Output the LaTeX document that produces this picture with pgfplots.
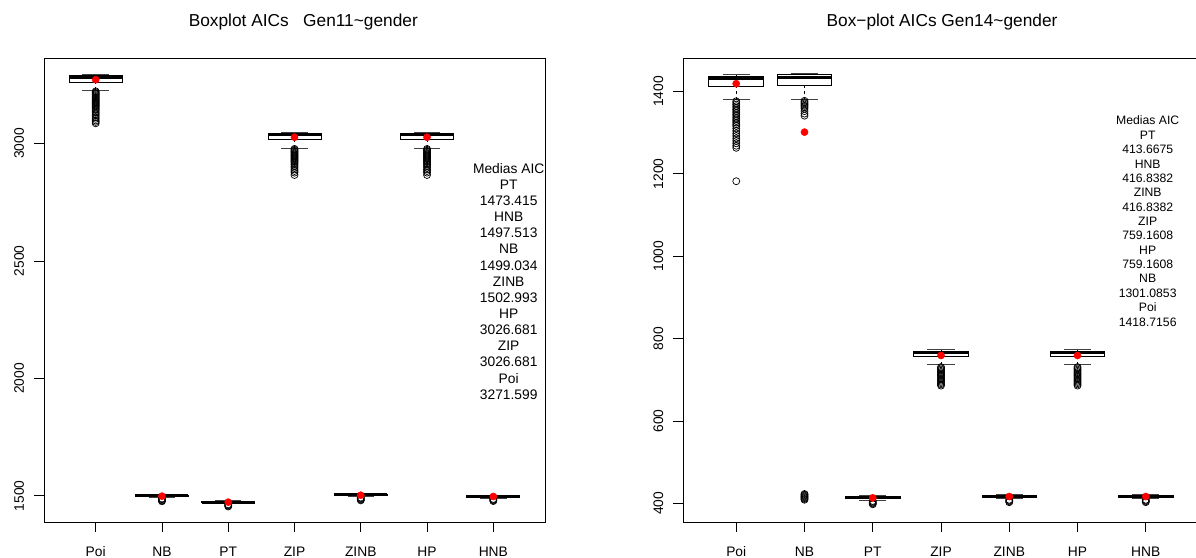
\documentclass[border=0pt]{standalone}
\usepackage{pgfplots}
\pgfplotsset{compat=1.18}
\usepackage{fontspec}
\setmainfont{Liberation Sans}

\pgfplotsset{
  aicaxis/.style={
    scale only axis,
    height=464pt,
    anchor=south west,
    xmin=0.22, xmax=7.78,
    xtick={1,2,3,4,5,6,7},
    xticklabels={Poi,NB,PT,ZIP,ZINB,HP,HNB},
    xtick pos=left, ytick pos=left,
    tick align=outside,
    major tick length=10pt,
    tick style={black, line width=0.9pt},
    axis line style={black, line width=0.9pt},
    ticklabel style={font=\fontsize{13.8}{16}\selectfont},
    /pgf/number format/1000 sep={},
    /pgf/number format/assume math mode=true,
    xticklabel style={anchor=base, inner sep=0pt, yshift=-24pt},
    % rotated labels: local y points to the left of the page
    yticklabel style={rotate=90, anchor=base, inner sep=0pt, yshift=10pt},
  },
  whisk/.style={black, line width=0.9pt, dash pattern=on 3pt off 3pt},
  staple/.style={black!75, line width=0.9pt},
  boxbody/.style={black, fill=white, line width=0.9pt},
  medline/.style={black, line width=3pt},
  outl/.style={only marks, mark=o, mark size=3.5pt, black,
    mark options={line width=0.7pt}},
  meanpt/.style={only marks, mark=*, mark size=3.6pt, red,
    mark options={draw=red, fill=red}},
}

% box at #1: lower whisker #2, lower quartile #3, median #4,
% upper quartile #5, upper whisker #6
\newcommand{\aicbox}[6]{%
  \pgfmathsetmacro\xl{#1-0.4}\pgfmathsetmacro\xr{#1+0.4}%
  \pgfmathsetmacro\cl{#1-0.2}\pgfmathsetmacro\cr{#1+0.2}%
  \addplot[whisk] coordinates {(#1,#2) (#1,#3)};
  \addplot[whisk] coordinates {(#1,#5) (#1,#6)};
  \addplot[staple] coordinates {(\cl,#2) (\cr,#2)};
  \addplot[staple] coordinates {(\cl,#6) (\cr,#6)};
  \addplot[boxbody] coordinates {(\xl,#3) (\xr,#3) (\xr,#5) (\xl,#5)} --cycle;
  \addplot[medline] coordinates {(\xl,#4) (\xr,#4)};
}

\begin{document}
\begin{tikzpicture}
\useasboundingbox (0pt,0pt) rectangle (1196pt,557pt);

% ---------------- Gen11 ----------------
\begin{axis}[aicaxis, at={(44pt,35pt)}, width=501pt,
  ymin=1389, ymax=3364, ytick={1500,2000,2500,3000}]
\aicbox{1}{3227}{3262}{3283}{3288}{3292}
\aicbox{2}{1492}{1497}{1500}{1502}{1505}
\aicbox{3}{1467}{1471}{1474}{1476}{1479}
\aicbox{4}{2981}{3017}{3038}{3042}{3045}
\aicbox{5}{1496}{1501}{1504}{1506}{1509}
\aicbox{6}{2981}{3017}{3038}{3042}{3045}
\aicbox{7}{1490}{1495}{1498}{1500}{1503}
% outliers
\addplot[outl] coordinates {
 (1,3222) (1,3218) (1,3214) (1,3210) (1,3206) (1,3202) (1,3198) (1,3194)
 (1,3190) (1,3186) (1,3182) (1,3178) (1,3174) (1,3170) (1,3166) (1,3162)
 (1,3158) (1,3153) (1,3148) (1,3143) (1,3137) (1,3131) (1,3125) (1,3119)
 (1,3112) (1,3105) (1,3098) (1,3092) (1,3086)
 (2,1489) (2,1486) (2,1483) (2,1480) (2,1477)
 (3,1464) (3,1461) (3,1458) (3,1455)
 (4,2977) (4,2973) (4,2969) (4,2965) (4,2961) (4,2957) (4,2953) (4,2949)
 (4,2945) (4,2941) (4,2937) (4,2933) (4,2929) (4,2925) (4,2921) (4,2916)
 (4,2910) (4,2904) (4,2897) (4,2890) (4,2883) (4,2876) (4,2866)
 (5,1493) (5,1490) (5,1487) (5,1484) (5,1481)
 (6,2977) (6,2973) (6,2969) (6,2965) (6,2961) (6,2957) (6,2953) (6,2949)
 (6,2945) (6,2941) (6,2937) (6,2933) (6,2929) (6,2925) (6,2921) (6,2916)
 (6,2910) (6,2904) (6,2897) (6,2890) (6,2883) (6,2876) (6,2866)
 (7,1487) (7,1484) (7,1481) (7,1478)
};
% means
\addplot[meanpt] coordinates {
 (1,3271.599) (2,1499.034) (3,1473.415) (4,3026.681)
 (5,1502.993) (6,3026.681) (7,1497.513)
};
\end{axis}

% ---------------- Gen14 ----------------
\begin{axis}[aicaxis, at={(683pt,35pt)}, width=516pt,
  ymin=355, ymax=1481, ytick={400,600,800,1000,1200,1400}]
\aicbox{1}{1380}{1412}{1431}{1436}{1440}
\aicbox{2}{1380}{1415}{1433}{1440}{1443}
\aicbox{3}{408}{412}{414}{416}{419}
\aicbox{4}{737}{756}{766}{770}{774}
\aicbox{5}{411}{415}{417}{419}{422}
\aicbox{6}{737}{756}{766}{770}{774}
\aicbox{7}{411}{415}{417}{419}{422}
% outliers
\addplot[outl] coordinates {
 (1,1376) (1,1372) (1,1368) (1,1364) (1,1360) (1,1356) (1,1352) (1,1348)
 (1,1344) (1,1340) (1,1336) (1,1332) (1,1328) (1,1324) (1,1320) (1,1316)
 (1,1310) (1,1304) (1,1298) (1,1292) (1,1286) (1,1280) (1,1274) (1,1268)
 (1,1263) (1,1182)
 (2,1377) (2,1374) (2,1371) (2,1368) (2,1365) (2,1362) (2,1358) (2,1352)
 (2,1346) (2,1341)
 (2,423) (2,421) (2,419) (2,417) (2,415) (2,413) (2,411) (2,409)
 (3,406) (3,404) (3,402) (3,400) (3,398)
 (4,731) (4,728) (4,725) (4,722) (4,719) (4,716) (4,713) (4,710)
 (4,707) (4,704) (4,701) (4,698) (4,695) (4,692) (4,689) (4,686)
 (5,409) (5,407) (5,405) (5,403)
 (6,731) (6,728) (6,725) (6,722) (6,719) (6,716) (6,713) (6,710)
 (6,707) (6,704) (6,701) (6,698) (6,695) (6,692) (6,689) (6,686)
 (7,409) (7,407) (7,405) (7,403)
};
% means
\addplot[meanpt] coordinates {
 (1,1418.7156) (2,1301.0853) (3,413.6675) (4,759.1608)
 (5,416.8382) (6,759.1608) (7,416.8382)
};
\end{axis}

% titles
\node[anchor=base, font=\fontsize{17.3}{20}\selectfont] at (303.3pt,530.3pt)
  {Boxplot AICs\ \ \ Gen11\textasciitilde gender};
\node[anchor=base, font=\fontsize{17.3}{20}\selectfont] at (942pt,530.3pt)
  {Box−plot AICs Gen14\textasciitilde gender};

% mean AIC lists
\foreach \t [count=\i from 0] in {Medias AIC, PT, 1473.415, HNB, 1497.513,
    NB, 1499.034, ZINB, 1502.993, HP, 3026.681, ZIP, 3026.681, Poi, 3271.599}
  \node[anchor=base, inner sep=0pt, font=\fontsize{13.8}{16}\selectfont]
    at (508.7pt, {(383.7-16.14*\i)*1pt}) {\t};
\foreach \t [count=\i from 0] in {Medias AIC, PT, 413.6675, HNB, 416.8382,
    ZINB, 416.8382, ZIP, 759.1608, HP, 759.1608, NB, 1301.0853, Poi, 1418.7156}
  \node[anchor=base, inner sep=0pt, font=\fontsize{12.2}{14}\selectfont]
    at (1147.7pt, {(432-14.36*\i)*1pt}) {\t};
\end{tikzpicture}
\end{document}
